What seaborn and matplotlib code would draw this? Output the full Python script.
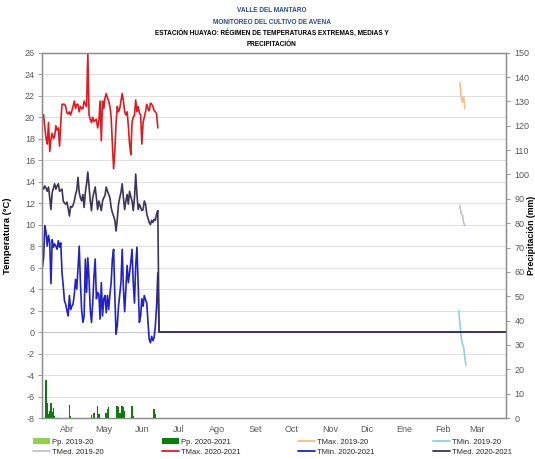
import numpy as np
import pandas as pd
import matplotlib
matplotlib.use("Agg")
import matplotlib.pyplot as plt
import matplotlib.dates as mdates
from matplotlib.patches import Patch
from matplotlib.lines import Line2D
import seaborn as sns

# ---------------- data ----------------
title_lines = ["VALLE DEL MANTARO",
               "MONITOREO DEL CULTIVO DE AVENA",
               "ESTACIÓN HUAYAO: RÉGIMEN DE TEMPERATURAS EXTREMAS, MEDIAS Y",
               "PRECIPITACIÓN"]
month_labels = ["Abr", "May", "Jun", "Jul", "Ago", "Set", "Oct", "Nov", "Dic", "Ene", "Feb", "Mar"]
season_start = "2020-03-16"
season_end = "2021-03-28"

# 2020-2021 daily temperatures (from season_start)
tmax_2021 = [20.3, 20.2, 19.0, 18.0, 17.5, 19.5, 16.8, 18.0, 18.5, 18.0,
             18.2, 19.2, 18.8, 19.0, 17.3, 19.5, 21.2, 21.2, 21.2, 21.0,
             20.4, 20.3, 20.5, 20.2, 20.6, 21.0, 21.5, 20.8, 21.2, 21.2,
             20.5, 21.0, 20.8, 20.8, 21.5, 21.2, 21.0, 26.0, 20.2, 19.8,
             19.5, 20.0, 19.6, 19.7, 19.8, 19.0, 19.6, 21.5, 17.8, 21.5,
             20.8, 21.8, 22.2, 21.8, 21.5, 21.0, 20.0, 17.5, 15.2, 16.8,
             19.5, 21.0, 20.5, 20.8, 21.5, 22.2, 21.5, 20.5, 20.2, 20.5,
             19.2, 17.5, 16.5, 19.5, 20.0, 20.2, 21.6, 20.5, 21.0, 20.4,
             20.2, 17.5, 19.5, 20.0, 20.5, 21.2, 20.8, 20.6, 21.3, 21.2,
             21.0, 20.6, 20.5, 20.3, 19.0]
tmin_2021 = [6.0, 6.9, 9.9, 9.3, 8.0, 9.0, 8.3, 4.5, 8.6, 7.9,
             8.2, 8.0, 7.7, 8.5, 7.9, 8.3, 5.5, 4.3, 2.9, 2.6,
             2.0, 1.5, 3.4, 2.1, 2.4, 2.6, 3.5, 4.9, 4.0, 5.9,
             8.0, 4.6, 2.0, 0.9, 1.5, 6.8, 3.7, 6.9, 4.9, 2.1,
             0.9, 2.7, 5.2, 6.8, 3.1, 3.7, 3.5, 1.2, 4.6, 1.5,
             3.1, 3.4, 1.8, 3.4, 2.1, 3.5, 4.6, 6.8, 7.7, 3.4,
             -0.2, 0.6, 2.4, 3.5, 4.6, 7.7, 4.0, 1.9, 4.0, 6.2,
             4.6, 5.5, 6.5, 7.7, 4.6, 2.7, 6.2, 7.9, 4.3, 0.9,
             1.5, 3.1, 2.4, 3.4, 3.0, 2.7, 0.9, -0.7, -1.0, -0.4,
             -0.8, -0.5, 0.6, 2.4, 5.5] + [0.0] * 284
tmed_2021 = [13.5, 13.3, 13.6, 13.4, 13.1, 13.5, 12.5, 11.4, 13.0, 13.4,
             13.8, 13.3, 13.6, 13.8, 13.1, 13.2, 13.3, 12.2, 12.0, 11.9,
             12.1, 11.5, 10.8, 11.7, 11.6, 11.8, 12.2, 12.8, 13.2, 14.4,
             13.0, 12.5, 12.2, 12.8, 11.6, 13.0, 13.8, 14.9, 13.6, 12.2,
             11.3, 12.5, 13.0, 13.5, 12.5, 11.4, 12.2, 11.8, 11.3, 12.2,
             12.5, 12.7, 13.5, 13.1, 12.8, 12.5, 11.6, 11.1, 10.8, 10.4,
             9.4, 10.5, 11.9, 12.5, 13.0, 13.8, 12.5, 11.4, 12.2, 12.8,
             11.9, 13.1, 12.6, 12.2, 11.3, 12.5, 14.7, 12.8, 11.4, 11.9,
             11.6, 11.3, 11.4, 12.2, 11.9, 11.0, 10.6, 10.2, 10.0, 10.4,
             10.2, 10.5, 10.4, 11.0, 11.3] + [0.0] * 284

# 2020-2021 precipitation (day of season, mm)
pp_2021_day = [3, 4, 5, 6, 7, 8, 9, 10, 22, 23, 40, 42, 45, 46, 52, 53, 54,
               61, 62, 63, 65, 66, 67, 73, 74, 91, 92]
pp_2021_mm = [15.5, 6.3, 1.5, 3.0, 6.0, 2.5, 4.0, 1.0, 5.5, 1.0, 1.2, 2.0, 5.0, 1.5,
              2.0, 3.5, 4.5, 5.0, 4.5, 2.0, 5.0, 4.5, 3.0, 5.0, 1.0, 3.5, 1.5]

# 2019-20 values (only a few days visible, late February)
tmax_1920_start = "2021-02-19"
tmax_1920 = [23.2, 21.8, 21.4, 21.9, 20.8]
tmed_1920_start = "2021-02-19"
tmed_1920 = [11.8, 11.0, 10.9, 10.2, 9.9]
tmin_1920_start = "2021-02-18"
tmin_1920 = [2.0, 0.8, -0.5, -1.1, -1.4, -2.4, -3.1]

# ---------------- style ----------------
sns.set_theme(style="white")
plt.rcParams['font.family'] = ['Liberation Sans', 'DejaVu Sans']
plt.rcParams['axes.unicode_minus'] = False

c_pp1920 = '#92d050'
c_pp2021 = '#0a7d0a'
c_tmax1920 = '#f9be8c'
c_tmin1920 = '#8fd0e0'
c_tmed1920 = '#c6bbdc'
c_tmax2021 = '#dc1c22'
c_tmin2021 = '#2222c4'
c_tmed2021 = '#3e3458'
grey_txt = '#595959'
spine_c = '#8c8c8c'

fig = plt.figure(figsize=(5.35, 4.59), dpi=100)
ax = fig.add_axes([42 / 535, 1 - 418 / 459, (506 - 42) / 535, (418 - 52.7) / 459])
ax2 = ax.twinx()


def dnum(start, n):
    return mdates.date2num(pd.date_range(start, periods=n, freq="D"))


# Excel-style horizontal axis crossing at 0
ax.axhline(0, color='#c9c2d9', lw=0.8, zorder=1)

series = [
    (tmax_1920_start, tmax_1920, c_tmax1920),
    (tmin_1920_start, tmin_1920, c_tmin1920),
    (tmed_1920_start, tmed_1920, c_tmed1920),
    (season_start, tmax_2021, c_tmax2021),
    (season_start, tmin_2021, c_tmin2021),
    (season_start, tmed_2021, c_tmed2021),
]
for start, vals, col in series:
    sns.lineplot(x=dnum(start, len(vals)), y=vals, ax=ax, color=col, lw=1.2,
                 legend=False, zorder=3)

pp_x = mdates.date2num(pd.Timestamp(season_start) + pd.to_timedelta(pp_2021_day, unit="D"))
ax2.bar(pp_x, pp_2021_mm, width=1.3, color=c_pp2021, linewidth=0)

# axes limits / ticks
x0 = mdates.date2num(pd.Timestamp(season_start)) - 0.3
x1 = mdates.date2num(pd.Timestamp(season_end)) + 0.5
ax.set_xlim(x0, x1)
ax.set_ylim(-8, 26)
ax.set_yticks(np.arange(-8, 27, 2))
ax2.set_ylim(0, 150)
ax2.set_yticks(np.arange(0, 151, 10))

month_starts = pd.date_range("2020-04-01", periods=12, freq="MS")
ax.set_xticks(mdates.date2num(month_starts + pd.Timedelta(days=4)))
ax.set_xticklabels(month_labels)

ax.grid(axis='y', color='#dedede', lw=0.7)
ax.grid(axis='x', visible=False)
ax.set_axisbelow(True)

for a in (ax, ax2):
    for s in a.spines.values():
        s.set_color(spine_c)
        s.set_linewidth(0.9)
ax.tick_params(axis='y', labelsize=6.5, labelcolor=grey_txt, color=spine_c,
               length=3, width=0.6, direction='out', pad=2, left=True)
ax2.tick_params(axis='y', labelsize=6.5, labelcolor=grey_txt, color=spine_c,
                length=3, width=0.6, direction='out', pad=3, right=True)
ax.tick_params(axis='x', length=0, labelsize=6.5, labelcolor=grey_txt, pad=5)

ax.set_xlabel("")
ax.set_ylabel("Temperatura (°C)", fontsize=6.8, fontweight='bold', color='black')
ax.yaxis.set_label_coords(-0.065, 0.5)
ax2.set_ylabel("Precipitación (mm)", fontsize=6.3, fontweight='bold', color='black',
               rotation=90)
ax2.yaxis.set_label_coords(1.046, 0.5)

# title
title_y = [10, 22, 33, 45]
title_c = ['#2a4d8f', '#2a4d8f', 'black', 'black']
for txt, yy, cc in zip(title_lines, title_y, title_c):
    fig.text(272 / 535, 1 - yy / 459, txt, ha='center', va='center',
             fontsize=4.7, fontweight='bold', color=cc)

# legend (column-major order to give the two reference rows)
handles = [
    Patch(facecolor=c_pp1920, edgecolor='none'),
    Patch(facecolor=c_pp2021, edgecolor='none'),
    Line2D([], [], color=c_tmax1920, lw=1.3),
    Line2D([], [], color=c_tmin1920, lw=1.3),
    Line2D([], [], color=c_tmed1920, lw=1.3),
    Line2D([], [], color=c_tmax2021, lw=1.3),
    Line2D([], [], color=c_tmin2021, lw=1.3),
    Line2D([], [], color=c_tmed2021, lw=1.3),
]
labels = ["Pp. 2019-20", "Pp. 2020-2021", "TMax. 2019-20", "TMin. 2019-20",
          "TMed. 2019-20", "TMax. 2020-2021", "TMin. 2020-2021", "TMed. 2020-2021"]
order = [0, 4, 1, 5, 2, 6, 3, 7]
fig.legend([handles[i] for i in order], [labels[i] for i in order],
           loc='center', ncol=4, mode='expand',
           bbox_to_anchor=(33 / 535, 1 - 459 / 459, (512 - 33) / 535, 24 / 459),
           borderaxespad=0, borderpad=0, frameon=False, fontsize=5.5,
           handlelength=2.2, handleheight=0.7, handletextpad=0.3,
           labelspacing=0.35, columnspacing=1.0)

fig.savefig("out.png", dpi=100)
